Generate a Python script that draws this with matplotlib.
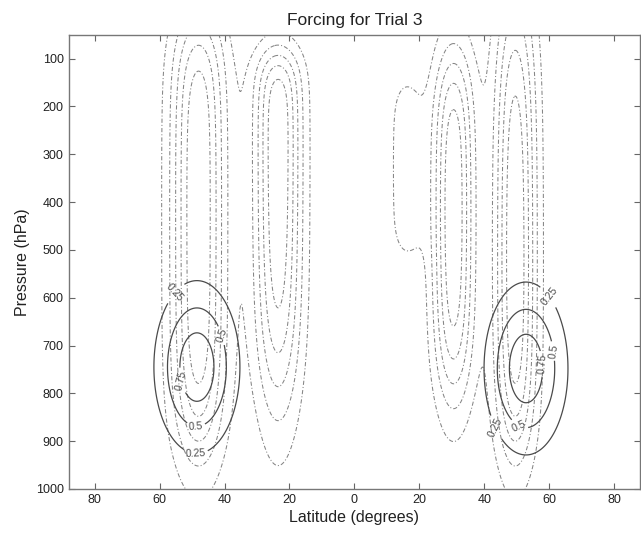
import matplotlib
matplotlib.use("Agg")
import matplotlib.pyplot as plt
import numpy as np

plt.rcParams['font.family'] = ['Liberation Sans', 'DejaVu Sans']

# forcing blobs (solid contours): amplitude, lat centre, lat width, p centre, p width
blob_amp = [0.92, 0.92]
blob_lat = [-48.5, 52.8]
blob_lat_w = [8.2, 8.0]
blob_p = [745.0, 748.0]
blob_p_w = [112.0, 112.0]
forcing_levels = [0.25, 0.5, 0.75]

# background field lobes (dashed contours)
lobe_amp = [3.0, 3.0, 0.85, 3.0, 3.0]
lobe_lat = [-48.0, -23.5, 16.0, 30.5, 49.5]
lobe_lat_w = [6.0, 5.2, 3.9, 4.5, 4.6]
lobe_p_top = [31.0, 93.0, 150.0, 110.0, 10.0]
lobe_top_edge = [118.0, 62.0, 60.0, 120.0, 209.0]
lobe_p_bot = [900.0, 786.0, 510.0, 780.0, 900.0]
lobe_bot_edge = [150.0, 205.0, 60.0, 150.0, 150.0]
dashed_levels = [0.5, 1.0, 1.5, 2.0, 2.5]

xtick_vals = [-80, -60, -40, -20, 0, 20, 40, 60, 80]
ytick_vals = [100, 200, 300, 400, 500, 600, 700, 800, 900, 1000]

# label spots for the forcing contours (lat, p)
label_spots = [(-55.5, 588), (-41.7, 681), (-54.6, 775), (-48.8, 868), (-48.8, 920),
               (59.4, 600), (61.5, 711), (57.9, 738), (51.0, 863), (43.0, 873)]

lat = np.linspace(-90, 90, 721)
p = np.linspace(30, 1050, 409)
LAT, P = np.meshgrid(lat, p)

forcing = np.zeros_like(LAT)
for a, lc, lw, pc, pw in zip(blob_amp, blob_lat, blob_lat_w, blob_p, blob_p_w):
    forcing += a * np.exp(-0.5 * ((LAT - lc) / lw) ** 2 - 0.5 * ((P - pc) / pw) ** 2)

back = np.zeros_like(LAT)
for a, lc, lw, pt, et, pb, eb in zip(lobe_amp, lobe_lat, lobe_lat_w, lobe_p_top,
                                     lobe_top_edge, lobe_p_bot, lobe_bot_edge):
    prof = 0.5 * (np.tanh((P - pt) / et) - np.tanh((P - pb) / eb))
    back += a * np.exp(-0.5 * ((LAT - lc) / lw) ** 2) * prof

fig = plt.figure(figsize=(6.41, 5.35), dpi=100)
ax = fig.add_axes([0.107, 0.086, 0.892, 0.849])

ax.contour(LAT, P, back, levels=dashed_levels, colors='#858585',
           linewidths=0.75, linestyles=[(0, (4, 2, 1, 2))])
cs = ax.contour(LAT, P, forcing, levels=forcing_levels, colors='#4a4a4a',
                linewidths=0.9, linestyles='solid')
ax.clabel(cs, fmt='%g', fontsize=7.5, manual=label_spots, inline=True, inline_spacing=2)

ax.set_xlim(-88, 88)
ax.set_ylim(1000, 50)
ax.set_xticks(xtick_vals)
ax.set_xticklabels([str(abs(v)) for v in xtick_vals])
ax.set_yticks(ytick_vals)
ax.tick_params(direction='in', top=True, right=True, labelsize=9, length=4,
               color='#666666', labelcolor='#222222')
for s in ax.spines.values():
    s.set_color('#777777')
    s.set_linewidth(1.0)

ax.set_title('Forcing for Trial 3', fontsize=12.5, color='#222222', pad=7)
ax.set_xlabel('Latitude (degrees)', fontsize=11.5, color='#222222', labelpad=3)
ax.set_ylabel('Pressure (hPa)', fontsize=11.5, color='#222222', labelpad=4)

fig.savefig('out.png', dpi=100)
